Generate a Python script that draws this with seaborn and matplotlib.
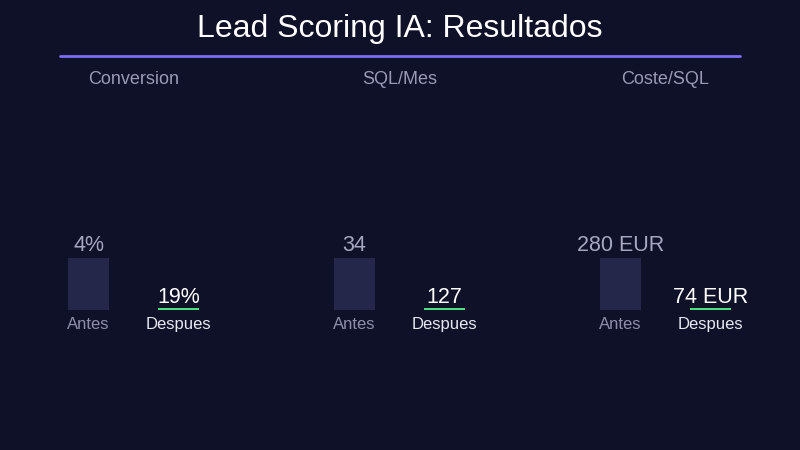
import matplotlib
matplotlib.use("Agg")
import matplotlib.pyplot as plt
import seaborn as sns
import pandas as pd

# datos
metricas = ["Conversion", "SQL/Mes", "Coste/SQL"]
etiquetas = ["Antes", "Despues"]
antes_txt = ["4%", "34", "280 EUR"]
despues_txt = ["19%", "127", "74 EUR"]
# altura relativa de las barras tal como aparecen en la imagen
altura_antes = [1.0, 1.0, 1.0]
altura_despues = [0.03, 0.03, 0.03]

BG = "#0f1128"
sns.set_theme(style="white")
plt.rcParams["font.family"] = ["Liberation Sans", "DejaVu Sans"]

fig = plt.figure(figsize=(8, 4.5), dpi=100, facecolor=BG)
fig.text(0.5, 1 - 37.5 / 450, "Lead Scoring IA: Resultados", ha="center", va="baseline",
         color="white", fontsize=23)
fig.add_artist(plt.Line2D([60 / 800, 740 / 800], [1 - 56 / 450] * 2, color="#7b6cf5", lw=2))

for i, m in enumerate(metricas):
    left = (43.5 + 266 * i) / 800
    ax = fig.add_axes([left, 140 / 450, 180 / 800, 52 / 450])
    ax.set_facecolor(BG)
    df = pd.DataFrame({"etapa": etiquetas, "valor": [altura_antes[i], altura_despues[i]]})
    sns.barplot(data=df, x="etapa", y="valor", hue="etapa", palette=["#25274a", "#4ade80"],
                saturation=1, width=0.456, linewidth=0, legend=False, ax=ax)
    ax.set_xlim(-0.5, 1.5)
    ax.set_ylim(0, 1)
    ax.set_xlabel("")
    ax.set_ylabel("")
    ax.set_yticks([])
    for s in ax.spines.values():
        s.set_visible(False)
    ax.tick_params(axis="x", length=0, pad=5.2, labelsize=12)
    tl = ax.get_xticklabels()
    tl[0].set_color("#8e8eaa")
    tl[1].set_color("#e8e8f2")
    ax.annotate(antes_txt[i], (0, altura_antes[i]), xytext=(0, 5), textcoords="offset points",
                ha="center", va="baseline", color="#a6a6c0", fontsize=15.5)
    ax.annotate(despues_txt[i], (1, altura_despues[i]), xytext=(0, 3.8), textcoords="offset points",
                ha="center", va="baseline", color="white", fontsize=15.5)
    fig.text(left + 90 / 800, 1 - 84 / 450, m, ha="center", va="baseline",
             color="#9a9ab6", fontsize=13)

fig.savefig("out.png", dpi=100, facecolor=BG)
